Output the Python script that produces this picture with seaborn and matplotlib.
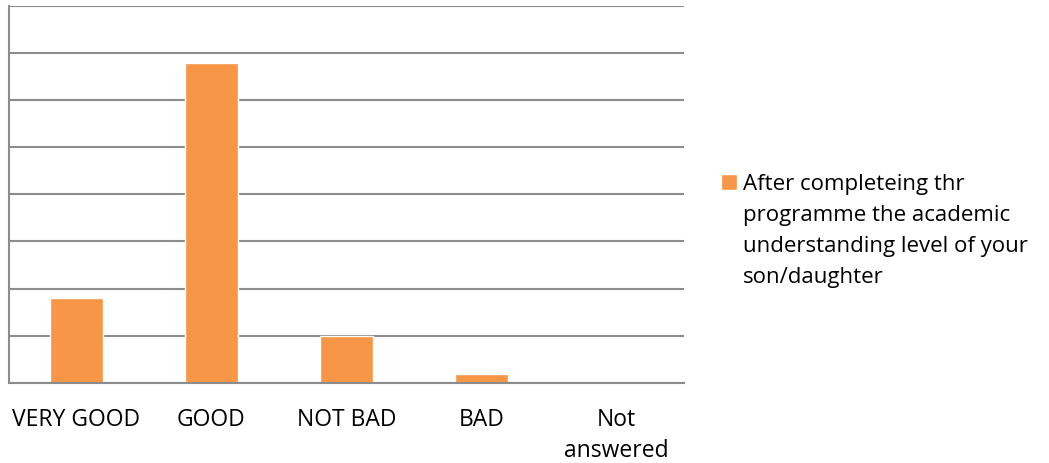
import matplotlib
matplotlib.use("Agg")
import matplotlib.pyplot as plt
import seaborn as sns

categories = ["VERY GOOD", "GOOD", "NOT BAD", "BAD", "Not\nanswered"]
values = [17.9, 67.9, 10.0, 1.8, 0.0]
series_label = "After completeing thr\nprogramme the academic\nunderstanding level of your\nson/daughter"

sns.set_theme(style="white")
plt.rcParams['font.family'] = ['Open Sans', 'DejaVu Sans']

fig = plt.figure(figsize=(10.49, 4.63), dpi=100)
ax = fig.add_axes([9 / 1049, 1 - 382.7 / 463, 675 / 1049, 376.7 / 463])

sns.barplot(x=categories, y=values, color="#F79646", saturation=1, width=0.39,
            label=series_label, ax=ax)

ax.set_ylim(0, 80)
ax.set_yticks(range(0, 81, 10))
ax.yaxis.grid(True, color="#8c8c8c", linewidth=1.5)
ax.set_axisbelow(True)
ax.set_yticklabels([])
ax.tick_params(axis="both", length=0)
ax.tick_params(axis="x", pad=18, labelsize=16.5, labelcolor="#000000")
for lbl in ax.get_xticklabels():
    lbl.set_linespacing(1.4)
for s in ["top", "right"]:
    ax.spines[s].set_visible(False)
for s in ["left", "bottom"]:
    ax.spines[s].set_color("#8c8c8c")
    ax.spines[s].set_linewidth(1.5)
ax.set_xlabel("")
ax.set_ylabel("")

leg = ax.legend(loc="upper left", bbox_to_anchor=(721 / 1049, 1 - 174 / 463),
                bbox_transform=fig.transFigure, frameon=False, fontsize=16,
                handlelength=0.7, handleheight=0.7, handletextpad=0.3,
                labelspacing=0, borderaxespad=0, borderpad=0)
for t in leg.get_texts():
    t.set_linespacing(1.62)
    t.set_color("#000000")
# keep the square next to the first line of the wrapped label
for col in leg._legend_handle_box.get_children():
    for item in col.get_children():
        item.align = "top"

fig.savefig("out.png", dpi=100)
